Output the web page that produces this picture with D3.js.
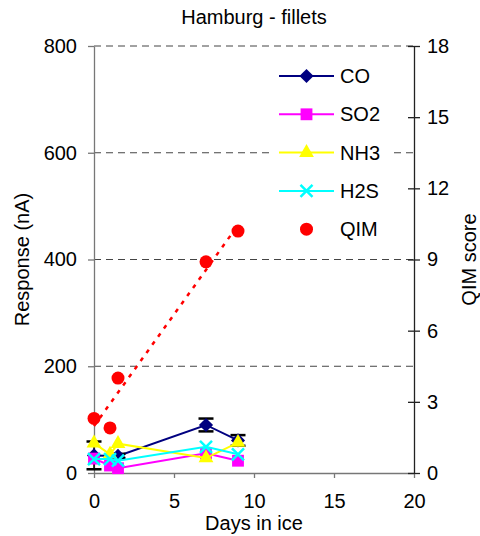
<!DOCTYPE html>
<html>
<head>
<meta charset="utf-8">
<script src="https://cdn.jsdelivr.net/npm/d3@7"></script>
<style>
  body { margin: 0; background: #fff; }
  text { font-family: "Liberation Sans", Arial, sans-serif; fill: #000; }
</style>
</head>
<body>
<div id="chart"></div>
<script>
// values
const days = [0, 1, 1.5, 7, 9];
const coValues = [33, null, 32, 90, 61];
const coErrors = [26, null, 4, 12, 10];
const so2Values = [27, 14, 9, 37, 23];
const nh3Values = [56, 35, 55, 28, 57];
const h2sValues = [26, 26, 23, 49, 35];
const qimScores = [2.3, 1.9, 4.0, 8.9, 10.2];

const seriesNames = ["CO", "SO2", "NH3", "H2S", "QIM"];
const xTicks = [0, 5, 10, 15, 20];
const yTicks = [0, 200, 400, 600, 800];
const qimTicks = [0, 3, 6, 9, 12, 15, 18];

function drawChart() {
    const W = 480, H = 536;
    const margin = { top: 46, right: 66, bottom: 63, left: 94 };
    const width = W - margin.left - margin.right,
        height = H - margin.top - margin.bottom;

    const svg = d3.select("#chart")
        .append("svg")
        .attr("width", W)
        .attr("height", H);

    const g = svg.append("g")
        .attr("transform", "translate(" + margin.left + "," + margin.top + ")");

    // scales
    const x = d3.scaleLinear().domain([0, 20]).range([0, width]);
    const y = d3.scaleLinear().domain([0, 800]).range([height, 0]);
    const y2 = d3.scaleLinear().domain([0, 18]).range([height, 0]);

    // dashed gridlines
    g.append("g")
        .selectAll("line")
        .data(yTicks.filter(d => d > 0))
        .enter()
        .append("line")
        .attr("x1", 0)
        .attr("x2", width)
        .attr("y1", d => y(d))
        .attr("y2", d => y(d))
        .attr("stroke", "#444")
        .attr("stroke-width", 1)
        .attr("stroke-dasharray", "7,5");

    // legend box sits over the gridlines
    const legend = svg.append("g");
    legend.append("rect")
        .attr("x", 272).attr("y", 56)
        .attr("width", 118).attr("height", 192)
        .attr("fill", "#fff");

    // axes
    const styleAxis = (sel, col) => {
        sel.select(".domain").attr("stroke", col).attr("stroke-width", 1.3);
        sel.selectAll(".tick line").attr("stroke", col).attr("stroke-width", 1.3);
        sel.selectAll("text").style("font-size", "20px")
            .style("font-family", "'Liberation Sans', Arial, sans-serif").attr("fill", "#000");
    };

    const xAxis = g.append("g")
        .attr("transform", "translate(0," + height + ")")
        .call(d3.axisBottom(x).tickValues(xTicks).tickSize(5).tickSizeOuter(0).tickPadding(16));
    styleAxis(xAxis, "#777");

    const yAxis = g.append("g")
        .call(d3.axisLeft(y).tickValues(yTicks).tickSize(6).tickSizeOuter(0).tickPadding(11));
    styleAxis(yAxis, "#777");

    const y2Axis = g.append("g")
        .attr("transform", "translate(" + width + ",0)")
        .call(d3.axisRight(y2).tickValues(qimTicks).tickSize(6).tickSizeOuter(0).tickPadding(7));
    styleAxis(y2Axis, "#222");
    y2Axis.selectAll(".tick line").attr("x1", -6).attr("x2", 6);

    // titles
    svg.append("text")
        .attr("x", 254).attr("y", 24)
        .attr("text-anchor", "middle")
        .style("font-size", "20px")
        .text("Hamburg - fillets");

    svg.append("text")
        .attr("x", 254).attr("y", 530)
        .attr("text-anchor", "middle")
        .style("font-size", "20px")
        .text("Days in ice");

    svg.append("text")
        .attr("transform", "translate(29," + (margin.top + height / 2) + ")rotate(-90)")
        .attr("text-anchor", "middle")
        .style("font-size", "20px")
        .text("Response (nA)");

    svg.append("text")
        .attr("transform", "translate(476," + (margin.top + height / 2) + ")rotate(-90)")
        .attr("text-anchor", "middle")
        .style("font-size", "20px")
        .text("QIM score");

    // marker shapes
    const diamond = d3.symbol().type(d3.symbolSquare).size(100)();
    const square = d3.symbol().type(d3.symbolSquare).size(140)();
    const triangle = d3.symbol().type(d3.symbolTriangle).size(95)();
    const cross = "M-6,-6L6,6M-6,6L6,-6";

    const series = [
        { name: "CO", values: coValues, color: "#000080", path: diamond, rot: 45, fill: true },
        { name: "SO2", values: so2Values, color: "#ff00ff", path: square, rot: 0, fill: true },
        { name: "NH3", values: nh3Values, color: "#ffff00", path: triangle, rot: 0, fill: true },
        { name: "H2S", values: h2sValues, color: "#00ffff", path: cross, rot: 0, fill: false }
    ];

    const line = d3.line()
        .defined(d => d.v != null)
        .x(d => x(d.day))
        .y(d => y(d.v));

    series.forEach(s => {
        const pts = days.map((day, i) => ({ day: day, v: s.values[i], err: s.name === "CO" ? coErrors[i] : null }));
        g.append("path")
            .datum(pts.filter(d => d.v != null))
            .attr("d", line)
            .attr("fill", "none")
            .attr("stroke", s.color)
            .attr("stroke-width", 2);

        // error bars (CO only)
        const eb = g.append("g");
        pts.filter(d => d.err).forEach(d => {
            const cx = x(d.day), top = y(d.v + d.err), bot = y(d.v - d.err);
            eb.append("line").attr("x1", cx).attr("x2", cx).attr("y1", top).attr("y2", bot)
                .attr("stroke", "#000").attr("stroke-width", 1.5);
            [top, bot].forEach(yy => eb.append("line")
                .attr("x1", cx - 7.5).attr("x2", cx + 7.5).attr("y1", yy).attr("y2", yy)
                .attr("stroke", "#000").attr("stroke-width", 2.5));
        });

        g.append("g")
            .selectAll("path")
            .data(pts.filter(d => d.v != null))
            .enter()
            .append("path")
            .attr("d", s.path)
            .attr("transform", d => "translate(" + x(d.day) + "," + y(d.v) + ")rotate(" + s.rot + ")")
            .attr("fill", s.fill ? s.color : "none")
            .attr("stroke", s.color)
            .attr("stroke-width", s.fill ? 0 : 2.5);
    });

    // QIM linear trendline (dotted) and points on the right axis
    const mx = d3.mean(days), my = d3.mean(qimScores);
    const slope = d3.sum(days, (d, i) => (d - mx) * (qimScores[i] - my)) / d3.sum(days, d => (d - mx) * (d - mx));
    const icpt = my - slope * mx;
    const xEnds = d3.extent(days);
    g.append("line")
        .attr("x1", x(xEnds[0])).attr("y1", y2(icpt + slope * xEnds[0]))
        .attr("x2", x(xEnds[1])).attr("y2", y2(icpt + slope * xEnds[1]))
        .attr("stroke", "#ff0000")
        .attr("stroke-width", 2.5)
        .attr("stroke-dasharray", "4,6");

    g.append("g")
        .selectAll("circle")
        .data(days.map((day, i) => ({ day: day, v: qimScores[i] })))
        .enter()
        .append("circle")
        .attr("cx", d => x(d.day))
        .attr("cy", d => y2(d.v))
        .attr("r", 6.5)
        .attr("fill", "#ff0000");

    // legend entries
    const legendRows = series.concat([{ name: "QIM", color: "#ff0000" }]);
    legendRows.forEach((s, i) => {
        const ly = 76 + i * 38.3;
        const row = legend.append("g");
        if (s.name !== "QIM") {
            row.append("line").attr("x1", 279).attr("x2", 334).attr("y1", ly).attr("y2", ly)
                .attr("stroke", s.color).attr("stroke-width", 2);
            row.append("path")
                .attr("d", s.path)
                .attr("transform", "translate(306.5," + ly + ")rotate(" + s.rot + ")")
                .attr("fill", s.fill ? s.color : "none")
                .attr("stroke", s.color)
                .attr("stroke-width", s.fill ? 0 : 2.5);
        } else {
            row.append("circle").attr("cx", 306.5).attr("cy", ly).attr("r", 6.5).attr("fill", s.color);
        }
        row.append("text")
            .attr("x", 340).attr("y", ly + 7)
            .style("font-size", "20px")
            .text(seriesNames[i]);
    });
}

drawChart();
</script>
</body>
</html>
